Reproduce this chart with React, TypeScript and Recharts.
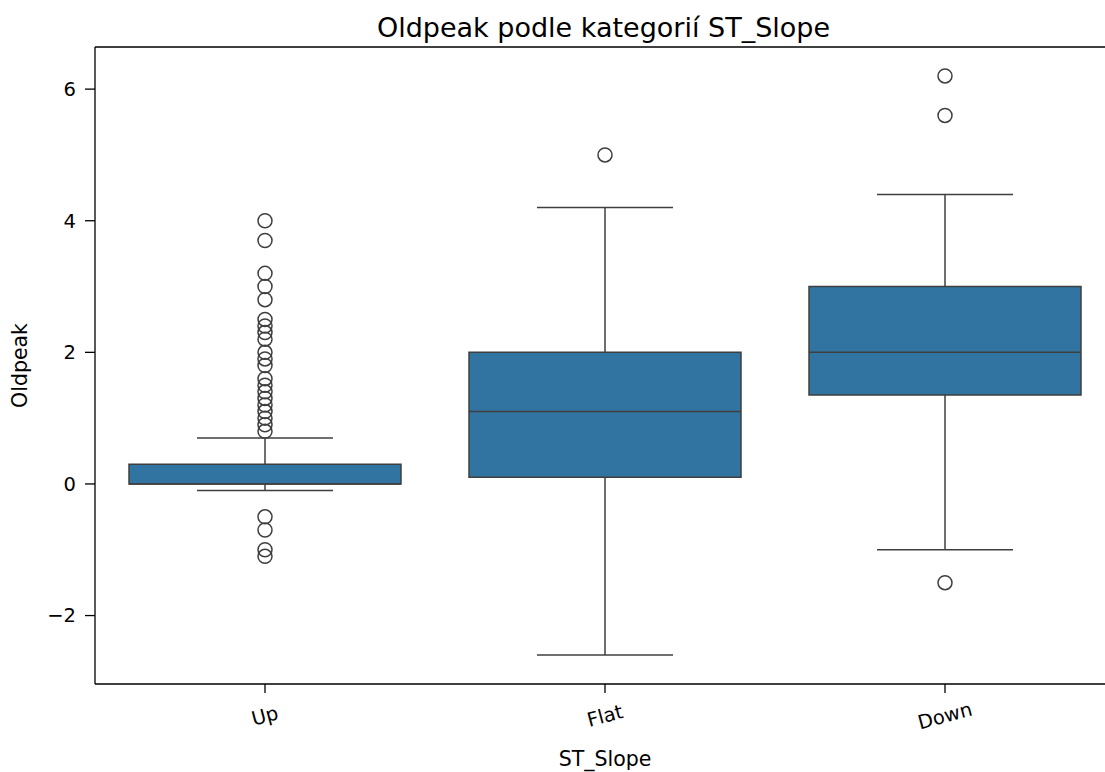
import React from 'react';
import {
  ComposedChart,
  XAxis,
  YAxis,
  Scatter,
  ReferenceArea,
  ReferenceLine,
} from 'recharts';

const categories = ['Up', 'Flat', 'Down'];
const q1 = [0.0, 0.1, 1.35];
const medians = [0.0, 1.1, 2.0];
const q3 = [0.3, 2.0, 3.0];
const whiskerLow = [-0.1, -2.6, -1.0];
const whiskerHigh = [0.7, 4.2, 4.4];
const outliersUp = [
  4.0, 3.7, 3.2, 3.0, 2.8, 2.5, 2.4, 2.3, 2.2, 2.0, 1.9, 1.8, 1.6, 1.5, 1.4,
  1.3, 1.2, 1.1, 1.0, 0.9, 0.8, -0.5, -0.7, -1.0, -1.1,
];
const outliersFlat = [5.0];
const outliersDown = [6.2, 5.6, -1.5];
const yTicks = [-2, 0, 2, 4, 6];

const Y_MIN = -3.04;
const Y_MAX = 6.64;
const X_MIN = -0.5;
const X_MAX = 2.5;

const BOX_FILL = '#3274a1';
const LINE = '#3f3f3f';
const FONT = '"DejaVu Sans", sans-serif';
const TICK_FS = 19.5;
const LABEL_FS = 20.5;

const outlierData = [outliersUp, outliersFlat, outliersDown].flatMap((arr, i) =>
  arr.map((v) => ({ x: i, y: v }))
);

const fmtY = (v: number) => (v < 0 ? '\u2212' + Math.abs(v) : String(v));

const XTick = (props: any) => {
  const { x, y, payload } = props;
  const ty = y + 21;
  return (
    <text
      x={x}
      y={ty}
      transform={`rotate(-15, ${x}, ${ty})`}
      textAnchor="middle"
      dominantBaseline="central"
      fontFamily={FONT}
      fontSize={TICK_FS}
      fill="#000"
    >
      {categories[payload.value]}
    </text>
  );
};

const OutlierShape = (props: any) => {
  const { cx, cy } = props;
  return <circle cx={cx} cy={cy} r={7} fill="none" stroke={LINE} strokeWidth={1.5} />;
};

export default function App() {
  return (
    <div
      style={{
        position: 'absolute',
        left: 0,
        top: 0,
        width: 1105,
        height: 772,
        overflow: 'hidden',
        background: '#fff',
      }}
    >
      <div
        style={{
          position: 'absolute',
          left: 0,
          width: 1207,
          top: 12,
          textAlign: 'center',
          fontFamily: FONT,
          fontSize: 27,
          color: '#000',
          lineHeight: '32px',
        }}
      >
        Oldpeak podle kategorií ST_Slope
      </div>
      <ComposedChart
        width={1130}
        height={772}
        margin={{ top: 47, right: 15, bottom: 0, left: 35 }}
        style={{ position: 'absolute', left: 0, top: 0 }}
      >
        <XAxis
          type="number"
          dataKey="x"
          domain={[X_MIN, X_MAX]}
          ticks={[0, 1, 2]}
          allowDataOverflow
          height={88}
          tick={<XTick />}
          tickSize={9}
          axisLine={{ stroke: '#000', strokeWidth: 1.3 }}
          tickLine={{ stroke: '#000', strokeWidth: 1.3 }}
          label={{
            content: (p: any) => {
              const vb = p.viewBox;
              return (
                <text
                  x={vb.x + vb.width / 2}
                  y={vb.y + 75}
                  textAnchor="middle"
                  dominantBaseline="central"
                  fontFamily={FONT}
                  fontSize={LABEL_FS}
                  fill="#000"
                >
                  ST_Slope
                </text>
              );
            },
          }}
        />
        <YAxis
          type="number"
          dataKey="y"
          domain={[Y_MIN, Y_MAX]}
          ticks={yTicks}
          allowDataOverflow
          width={60}
          tickFormatter={fmtY}
          tickSize={10}
          tickMargin={9}
          tick={{ fontFamily: FONT, fontSize: TICK_FS, fill: '#000' }}
          axisLine={{ stroke: '#000', strokeWidth: 1.3 }}
          tickLine={{ stroke: '#000', strokeWidth: 1.3 }}
          label={{
            content: (p: any) => {
              const vb = p.viewBox;
              const cx = 20;
              const cy = vb.y + vb.height / 2;
              return (
                <text
                  x={cx}
                  y={cy}
                  transform={`rotate(-90, ${cx}, ${cy})`}
                  textAnchor="middle"
                  dominantBaseline="central"
                  fontFamily={FONT}
                  fontSize={LABEL_FS}
                  fill="#000"
                >
                  Oldpeak
                </text>
              );
            },
          }}
        />
        <ReferenceLine y={Y_MAX} stroke="#000" strokeWidth={1.3} ifOverflow="visible" />
        <ReferenceLine x={X_MAX} stroke="#000" strokeWidth={1.3} ifOverflow="visible" />
        {categories.map((c, i) => (
          <ReferenceLine
            key={'wl' + c}
            segment={[
              { x: i, y: whiskerLow[i] },
              { x: i, y: q1[i] },
            ]}
            stroke={LINE}
            strokeWidth={1.5}
            ifOverflow="visible"
          />
        ))}
        {categories.map((c, i) => (
          <ReferenceLine
            key={'wh' + c}
            segment={[
              { x: i, y: q3[i] },
              { x: i, y: whiskerHigh[i] },
            ]}
            stroke={LINE}
            strokeWidth={1.5}
            ifOverflow="visible"
          />
        ))}
        {categories.map((c, i) => (
          <ReferenceLine
            key={'cl' + c}
            segment={[
              { x: i - 0.2, y: whiskerLow[i] },
              { x: i + 0.2, y: whiskerLow[i] },
            ]}
            stroke={LINE}
            strokeWidth={1.5}
            ifOverflow="visible"
          />
        ))}
        {categories.map((c, i) => (
          <ReferenceLine
            key={'ch' + c}
            segment={[
              { x: i - 0.2, y: whiskerHigh[i] },
              { x: i + 0.2, y: whiskerHigh[i] },
            ]}
            stroke={LINE}
            strokeWidth={1.5}
            ifOverflow="visible"
          />
        ))}
        {categories.map((c, i) => (
          <ReferenceArea
            key={'box' + c}
            x1={i - 0.4}
            x2={i + 0.4}
            y1={q1[i]}
            y2={q3[i]}
            fill={BOX_FILL}
            fillOpacity={1}
            stroke={LINE}
            strokeWidth={1.5}
            ifOverflow="visible"
          />
        ))}
        {categories.map((c, i) => (
          <ReferenceLine
            key={'med' + c}
            segment={[
              { x: i - 0.4, y: medians[i] },
              { x: i + 0.4, y: medians[i] },
            ]}
            stroke={LINE}
            strokeWidth={1.5}
            ifOverflow="visible"
          />
        ))}
        <Scatter data={outlierData} shape={<OutlierShape />} isAnimationActive={false} />
      </ComposedChart>
    </div>
  );
}
